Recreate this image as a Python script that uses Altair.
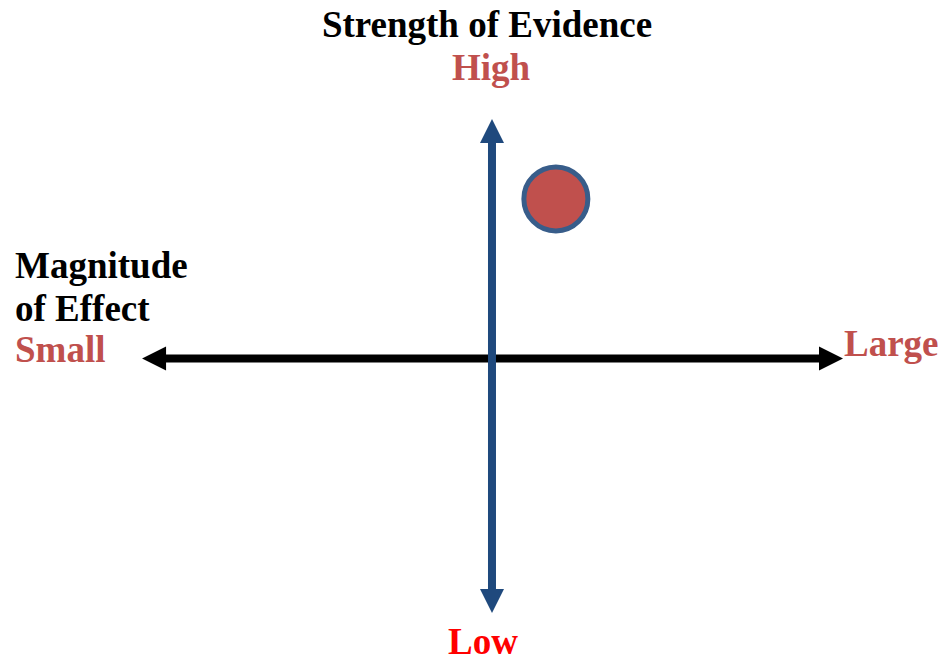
import altair as alt
import pandas as pd

# ---- diagram data (normalized coordinates: axes cross at 0,0) ----
axis_names = ["Magnitude of Effect", "Strength of Evidence"]
axis_colors = ["#000000", "#1F497D"]
# line segments (x1, y1, x2, y2)
line_x1 = [-0.95, 0.0]
line_x2 = [0.95, 0.0]
line_y1 = [0.0, -0.975]
line_y2 = [0.0, 0.91]

# arrow tips
tip_x = [-0.997, 1.0, 0.0, 0.0]
tip_y = [0.0, 0.0, 0.998, -1.06]
tip_angle = [270, 90, 0, 180]
tip_color = ["#000000", "#000000", "#1F497D", "#1F497D"]

# the study point
point_x = [0.182]
point_y = [0.665]

# labels
label_text = ["Strength of Evidence", "High", "Magnitude", "of Effect", "Small", "Large", "Low"]
label_x = [-0.0142, -0.0028, -1.359, -1.359, -1.359, 1.0029, -0.0256]
label_y = [1.3396, 1.1604, 0.3354, 0.156, -0.0146, 0.0104, -1.2313]
label_color = ["#000000", "#C0504D", "#000000", "#000000", "#C0504D", "#C0504D", "#FF0000"]
label_align = ["center", "center", "left", "left", "left", "left", "center"]

XDOM = [-1.3789, 1.2707]
YDOM = [-1.2354, 1.4604]

xs = alt.Scale(domain=XDOM, nice=False, zero=False)
ys = alt.Scale(domain=YDOM, nice=False, zero=False)

lines = pd.DataFrame({"name": axis_names, "color": axis_colors,
                      "x1": line_x1, "x2": line_x2, "y1": line_y1, "y2": line_y2})
tips = pd.DataFrame({"x": tip_x, "y": tip_y, "angle": tip_angle, "color": tip_color})
pts = pd.DataFrame({"x": point_x, "y": point_y})
labels = pd.DataFrame({"text": label_text, "x": label_x, "y": label_y,
                       "color": label_color, "align": label_align})

rules = alt.Chart(lines).mark_rule(strokeWidth=8, strokeCap="butt").encode(
    x=alt.X("x1:Q", scale=xs, axis=None),
    x2="x2:Q",
    y=alt.Y("y1:Q", scale=ys, axis=None),
    y2="y2:Q",
    color=alt.Color("color:N", scale=None),
)

heads = alt.Chart(tips).mark_point(
    shape="M0,0L1,2L-1,2Z", size=576, filled=True, opacity=1, strokeWidth=0
).encode(
    x=alt.X("x:Q", scale=xs, axis=None),
    y=alt.Y("y:Q", scale=ys, axis=None),
    angle=alt.Angle("angle:Q", scale=None),
    color=alt.Color("color:N", scale=None),
)

dot = alt.Chart(pts).mark_point(
    shape="circle", size=4096, filled=True, opacity=1,
    fill="#C0504D", stroke="#385D8A", strokeWidth=5, strokeOpacity=1, fillOpacity=1
).encode(
    x=alt.X("x:Q", scale=xs, axis=None),
    y=alt.Y("y:Q", scale=ys, axis=None),
)

def text_layer(align):
    d = labels[labels["align"] == align]
    return alt.Chart(d).mark_text(
        font="Liberation Serif", fontSize=37, fontWeight="bold",
        align=align, baseline="alphabetic"
    ).encode(
        x=alt.X("x:Q", scale=xs, axis=None),
        y=alt.Y("y:Q", scale=ys, axis=None),
        text="text:N",
        color=alt.Color("color:N", scale=None),
    )

chart = alt.layer(rules, heads, dot, text_layer("center"), text_layer("left")).properties(
    width=930, height=647, padding=0, background="white",
    autosize=alt.AutoSizeParams(type="none")
).configure_view(strokeWidth=0, stroke=None)

chart.save("out.html", embed_options={"renderer": "svg", "actions": False})
